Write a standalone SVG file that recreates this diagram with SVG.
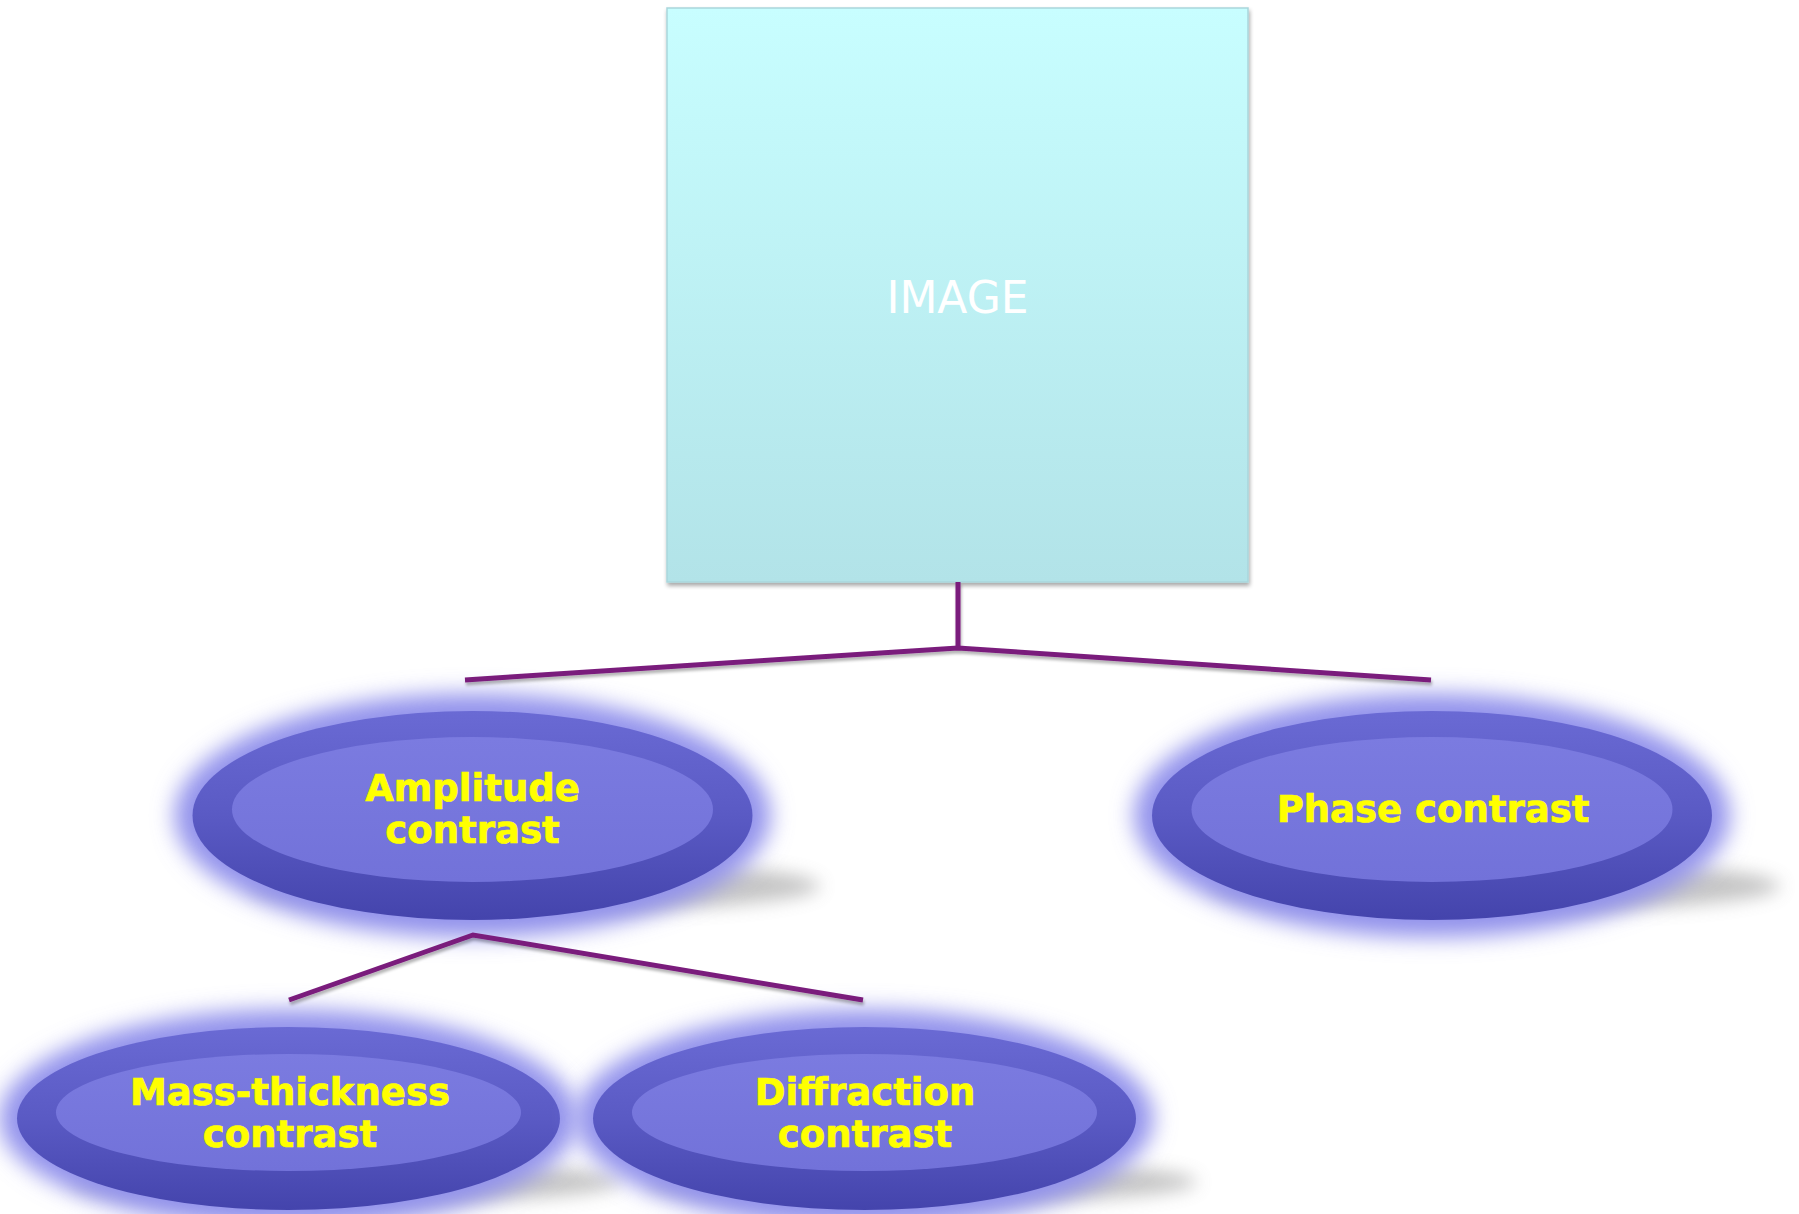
<svg xmlns="http://www.w3.org/2000/svg" width="1799" height="1214" viewBox="0 0 1799 1214">
  <defs>
    <linearGradient id="boxFill" x1="0" y1="0" x2="0" y2="1">
      <stop offset="0" stop-color="#C8FEFF"/>
      <stop offset="1" stop-color="#B2E3E8"/>
    </linearGradient>
    <linearGradient id="ringFill" x1="0" y1="0" x2="0" y2="1">
      <stop offset="0" stop-color="#6A6AD4"/>
      <stop offset="0.5" stop-color="#5A5AC4"/>
      <stop offset="1" stop-color="#4444AC"/>
    </linearGradient>
    <linearGradient id="coreFill" x1="0" y1="0" x2="0" y2="1">
      <stop offset="0" stop-color="#7B7BE0"/>
      <stop offset="1" stop-color="#7272D9"/>
    </linearGradient>
    <filter id="boxShadow" x="-5%" y="-5%" width="110%" height="110%">
      <feGaussianBlur in="SourceAlpha" stdDeviation="2"/>
      <feOffset dx="1" dy="3" result="b"/>
      <feComponentTransfer><feFuncA type="linear" slope="0.35"/></feComponentTransfer>
      <feMerge><feMergeNode/><feMergeNode in="SourceGraphic"/></feMerge>
    </filter>
    <filter id="glow" x="-20%" y="-40%" width="140%" height="180%">
      <feGaussianBlur stdDeviation="11"/>
    </filter>
    <filter id="floorShadow" x="-20%" y="-100%" width="140%" height="300%">
      <feGaussianBlur stdDeviation="9"/>
    </filter>
    <filter id="lineShadow" x="-5%" y="-50%" width="110%" height="200%">
      <feGaussianBlur in="SourceAlpha" stdDeviation="1.5"/>
      <feOffset dx="1" dy="3"/>
      <feComponentTransfer><feFuncA type="linear" slope="0.3"/></feComponentTransfer>
      <feMerge><feMergeNode/><feMergeNode in="SourceGraphic"/></feMerge>
    </filter>
  </defs>
  <style>
    .link { fill: none; stroke: #7A1C7C; stroke-width: 5; stroke-linecap: butt; stroke-linejoin: miter; }
    .halo { fill: #9393EC; }
    .floor { fill: #808080; opacity: 0.45; }
    .ring { fill: url(#ringFill); }
    .core { fill: url(#coreFill); }
    .label { font-family: "DejaVu Sans", Verdana, sans-serif; font-weight: bold; font-size: 37px; fill: #FFFF00; stroke: #FFFF00; stroke-width: 0.7; text-anchor: middle; }
    .title { font-family: "DejaVu Sans", Verdana, sans-serif; font-size: 44px; fill: #FFFFFF; text-anchor: middle; }
  </style>

  <rect width="1799" height="1214" fill="#FFFFFF"/>

  <!-- top box -->
  <g id="image">
    <rect x="667" y="8" width="581" height="574" fill="url(#boxFill)" stroke="#A9D6DC" stroke-width="1.5" filter="url(#boxShadow)"/>
    <text class="title" x="957.5" y="313">IMAGE</text>
  </g>

  <!-- amplitude contrast -->
  <g id="amplitude">
    <ellipse class="floor" cx="535" cy="886" rx="285" ry="26" filter="url(#floorShadow)"/>
    <ellipse class="halo" cx="472.5" cy="815.5" rx="298" ry="122" filter="url(#glow)"/>
    <ellipse class="ring" cx="472.5" cy="815.5" rx="280" ry="104.5"/>
    <ellipse class="core" cx="472.5" cy="809.5" rx="240.5" ry="72.5"/>
    <text class="label" x="472.5" y="801">Amplitude</text>
    <text class="label" x="472.5" y="843">contrast</text>
  </g>

  <!-- phase contrast -->
  <g id="phase">
    <ellipse class="floor" cx="1495" cy="886" rx="285" ry="26" filter="url(#floorShadow)"/>
    <ellipse class="halo" cx="1432" cy="815.5" rx="298" ry="122" filter="url(#glow)"/>
    <ellipse class="ring" cx="1432" cy="815.5" rx="280" ry="104.5"/>
    <ellipse class="core" cx="1432" cy="809.5" rx="240.5" ry="72.5"/>
    <text class="label" x="1433" y="822">Phase contrast</text>
  </g>

  <!-- mass-thickness contrast -->
  <g id="mass-thickness">
    <ellipse class="floor" cx="346" cy="1182" rx="275" ry="22" filter="url(#floorShadow)"/>
    <ellipse class="halo" cx="288.5" cy="1118.5" rx="289" ry="109" filter="url(#glow)"/>
    <ellipse class="ring" cx="288.5" cy="1118.5" rx="271.5" ry="91.5"/>
    <ellipse class="core" cx="288.5" cy="1112.5" rx="232.5" ry="58.5"/>
    <text class="label" x="290" y="1105">Mass-thickness</text>
    <text class="label" x="290" y="1147">contrast</text>
  </g>

  <!-- diffraction contrast -->
  <g id="diffraction">
    <ellipse class="floor" cx="922" cy="1182" rx="275" ry="22" filter="url(#floorShadow)"/>
    <ellipse class="halo" cx="864.5" cy="1118.5" rx="289" ry="109" filter="url(#glow)"/>
    <ellipse class="ring" cx="864.5" cy="1118.5" rx="271.5" ry="91.5"/>
    <ellipse class="core" cx="864.5" cy="1112.5" rx="232.5" ry="58.5"/>
    <text class="label" x="865" y="1105">Diffraction</text>
    <text class="label" x="865" y="1147">contrast</text>
  </g>

  <!-- connectors, drawn over the node glows -->
  <g id="connectors" filter="url(#lineShadow)">
    <polyline class="link" points="958,582 958,648"/>
    <polyline class="link" points="465,680 958,648 1431,680"/>
    <polyline class="link" points="289,1000 473,935 863,1000"/>
  </g>
</svg>
